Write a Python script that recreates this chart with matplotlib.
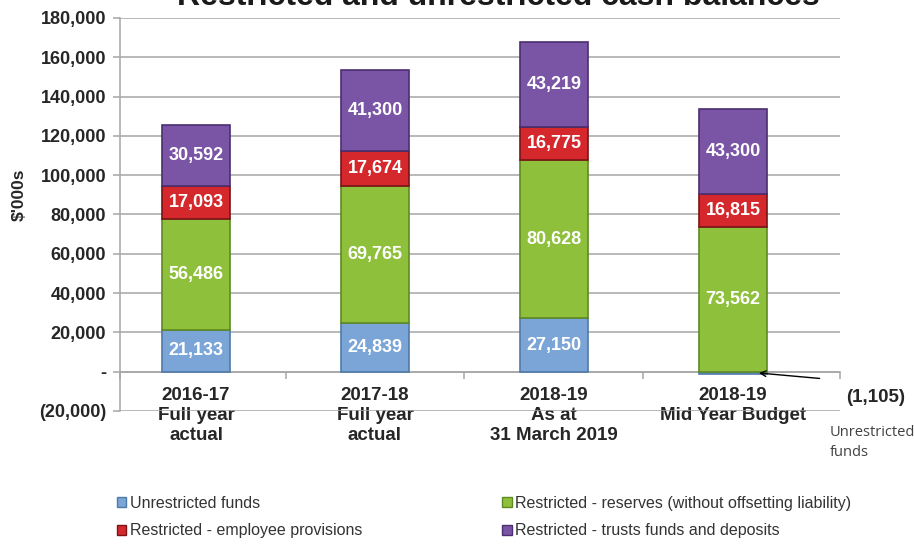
import matplotlib.pyplot as plt
from matplotlib.patches import Patch
from matplotlib.ticker import FuncFormatter, FixedLocator

plt.rcParams['font.family'] = ['Liberation Sans', 'DejaVu Sans']

categories = ['2016-17\nFull year\nactual', '2017-18\nFull year\nactual',
              '2018-19\nAs at\n31 March 2019', '2018-19\nMid Year Budget']
series_names = ['Unrestricted funds',
                'Restricted - reserves (without offsetting liability)',
                'Restricted - employee provisions',
                'Restricted - trusts funds and deposits']
unrestricted = [21133, 24839, 27150, -1105]
reserves = [56486, 69765, 80628, 73562]
employee = [17093, 17674, 16775, 16815]
trusts = [30592, 41300, 43219, 43300]

colors = ['#7aa5d6', '#8fc03c', '#d4282c', '#7a55a6']
edges = ['#4f7aa8', '#5f8a22', '#7a1416', '#4b2f70']


def fmt(v, _=None):
    if v == 0:
        return '-'
    if v < 0:
        return f'({abs(v):,.0f})'
    return f'{v:,.0f}'


fig = plt.figure(figsize=(9.14, 5.44), dpi=100)
ax = fig.add_axes([0.1313, 0.2445, 0.788, 0.7225])

x = list(range(len(categories)))
width = 0.38
pos_base = [0.0] * len(x)
neg_base = [0.0] * len(x)
for vals, c, ec in zip([unrestricted, reserves, employee, trusts], colors, edges):
    for i, v in enumerate(vals):
        base = pos_base[i] if v >= 0 else neg_base[i]
        ax.bar(x[i], v, width, bottom=base, color=c, edgecolor=ec,
               linewidth=1.2, zorder=3)
        # value label inside the segment (skip the tiny negative one)
        if v > 0:
            ax.text(x[i], base + v / 2, fmt(v), ha='center', va='center',
                    color='white', fontsize=13, fontweight='bold', zorder=4)
        if v >= 0:
            pos_base[i] += v
        else:
            neg_base[i] += v

ax.set_ylim(-20000, 180000)
ax.set_xlim(-0.425, 3.6)
ax.yaxis.set_major_locator(FixedLocator(range(-20000, 180001, 20000)))
ax.yaxis.set_major_formatter(FuncFormatter(fmt))
ax.grid(axis='y', color='#a6a6a6', linewidth=1.1, zorder=0)
ax.set_axisbelow(True)

for s in ['top', 'right']:
    ax.spines[s].set_visible(False)
ax.spines['left'].set_color('#a6a6a6')
ax.spines['left'].set_linewidth(1.1)
ax.spines['bottom'].set_position(('data', 0))
ax.spines['bottom'].set_color('#a6a6a6')
ax.spines['bottom'].set_linewidth(1.1)

ax.set_xticks(x)
ax.set_xticklabels(categories, fontsize=13.5, fontweight='bold', color='#262626',
                   linespacing=1.25)
ax.set_xticks([-0.425, 0.5, 1.5, 2.5, 3.6], minor=True)
ax.tick_params(axis='x', which='major', length=0, pad=11)
ax.tick_params(axis='x', which='minor', length=5, color='#a6a6a6', width=1.1)
ax.tick_params(axis='y', length=5, color='#a6a6a6', width=1.1, pad=5)
for lab in ax.get_yticklabels():
    lab.set_fontsize(13)
    lab.set_fontweight('bold')
    lab.set_color('#262626')
ax.set_ylabel("$'000s", fontsize=12.5, fontweight='bold', color='#262626', labelpad=12)
ax.yaxis.set_label_coords(-0.13, 0.55)

# callout for the negative unrestricted balance in the budget column
ax.annotate('', xy=(3.13, unrestricted[3] / 2), xytext=(3.5, -3560),
            arrowprops=dict(arrowstyle='->', color='black', lw=1.0),
            annotation_clip=False)
ax.text(3.8, -13000, fmt(unrestricted[3]), ha='center', va='center',
        fontsize=13.5, fontweight='bold', color='#262626', clip_on=False)
ax.text(3.54, -36000, 'Unrestricted\nfunds', ha='left', va='center',
        fontsize=10.5, family=['Open Sans', 'DejaVu Sans'], color='#404040',
        linespacing=1.45, clip_on=False)

fig.text(0.545, 1 - 5 / 544, 'Restricted and unrestricted cash balances',
         ha='center', va='baseline', fontsize=23, fontweight='bold', color='#1a1a1a')

handles = [Patch(facecolor=c, edgecolor=ec) for c, ec in zip(colors, edges)]
order = [0, 2, 1, 3]
fig.legend([handles[i] for i in order], [series_names[i] for i in order],
           ncol=2, loc='lower left', bbox_to_anchor=(0.112, -0.016), frameon=False,
           fontsize=11.5, handlelength=0.6, handleheight=0.6, handletextpad=0.2,
           columnspacing=8.8, labelspacing=0.8, labelcolor='#333333')

fig.savefig('out.png', dpi=100)
